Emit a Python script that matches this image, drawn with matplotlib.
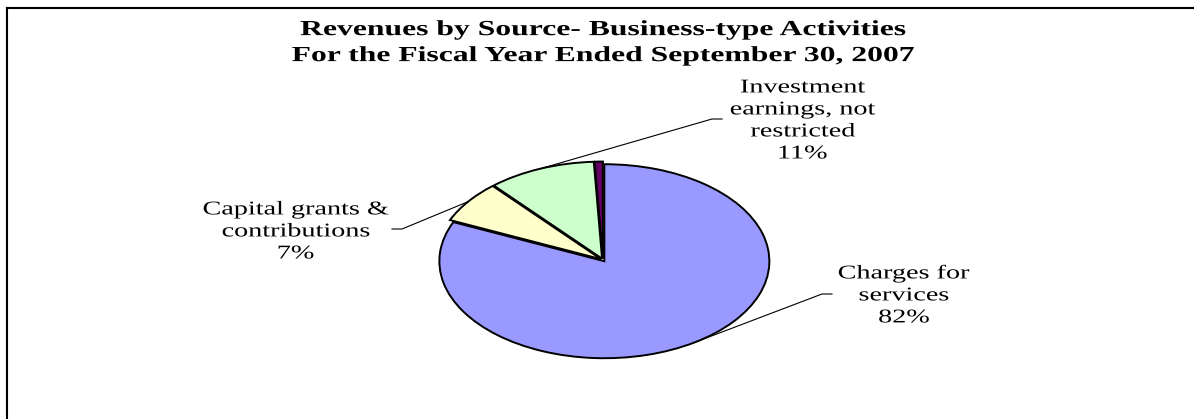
import matplotlib.pyplot as plt
import numpy as np
from matplotlib.lines import Line2D
from matplotlib.font_manager import FontProperties
from matplotlib.textpath import TextPath
from matplotlib.patches import PathPatch
from matplotlib.transforms import Affine2D, IdentityTransform

sources = ["Charges for\nservices", "Capital grants &\ncontributions",
           "Investment\nearnings, not\nrestricted", "Other"]
shares = [81.6, 7.0, 10.6, 0.8]
colours = ["#9999FF", "#FFFFCC", "#CCFFCC", "#660066"]
title = "Revenues by Source- Business-type Activities\nFor the Fiscal Year Ended September 30, 2007"

W, H = 1194, 419
DPI = 100
cx, cy, rx, ry = 603, 260, 165, 97   # pie centre / radii in pixels (from top)
serif = "Liberation Serif"

def px(x, y):
    # pixel (from top-left) -> data units of the flattened pie
    return (x - cx) / rx, (cy - y) / ry

def wide_text(fig, x, y, text, size_pt, weight="normal", stretch=1.45, lead=22):
    # centred multi-line text, stretched sideways like the reference render
    # x, y = centre of the block in pixels from top-left
    prop = FontProperties(family=serif, weight=weight)
    size = size_pt * DPI / 72
    lines = text.split("\n")
    base0 = y - lead * (len(lines) - 1) / 2 + 0.33 * size
    for j, line in enumerate(lines):
        tp = TextPath((0, 0), line, size=size, prop=prop)
        ext = tp.get_extents()
        w = ext.x1 - ext.x0
        yb = base0 + j * lead
        tr = Affine2D().translate(-ext.x0 - w / 2, 0).scale(stretch, 1) \
            .translate(x, H - yb)
        fig.add_artist(PathPatch(tr.transform_path(tp), facecolor="black",
                                 edgecolor="none", transform=IdentityTransform()))

fig = plt.figure(figsize=(W / DPI, H / DPI), dpi=DPI)
ax = fig.add_axes([0, 0, 1, 1])

wedges, _ = ax.pie(shares, colors=colours, startangle=90, counterclock=False,
                   explode=[0.015] * len(shares),
                   wedgeprops=dict(edgecolor="black", linewidth=1.4))
ax.set_aspect("auto")
ax.set_xlim(-cx / rx, (W - cx) / rx)
ax.set_ylim(-(H - cy) / ry, cy / ry)
ax.axis("off")

wide_text(fig, cx, 41, title, 15.5, weight="bold", stretch=1.47, lead=26)

# label placement: text centre, elbow of leader, stub end (pixels)
label_pos = {
    0: ((904, 294), (822, 294), (832, 294)),
    1: ((296, 230), (402, 229), (392, 229)),
    2: ((803, 119), (712, 119), (722, 119)),
}
for i, (txt_xy, elbow, stub) in label_pos.items():
    w = wedges[i]
    mid = np.deg2rad((w.theta1 + w.theta2) / 2)
    ex, ey = np.cos(mid) + w.center[0], np.sin(mid) + w.center[1]
    bx, by = px(*elbow)
    sx, sy = px(*stub)
    ax.plot([ex, bx, sx], [ey, by, sy], color="black", lw=0.8)
    pct = "%d%%" % round(shares[i] / sum(shares) * 100)
    wide_text(fig, txt_xy[0], txt_xy[1], sources[i] + "\n" + pct, 14,
              stretch=1.45, lead=22)

# chart frame (left and top edges visible)
fig.add_artist(Line2D([7 / W, 7 / W], [0, 1 - 8 / H], color="black", lw=1.5,
                      transform=fig.transFigure))
fig.add_artist(Line2D([7 / W, 1], [1 - 8 / H, 1 - 8 / H], color="black", lw=1.5,
                      transform=fig.transFigure))

fig.savefig("out.png", dpi=DPI, facecolor="white")
